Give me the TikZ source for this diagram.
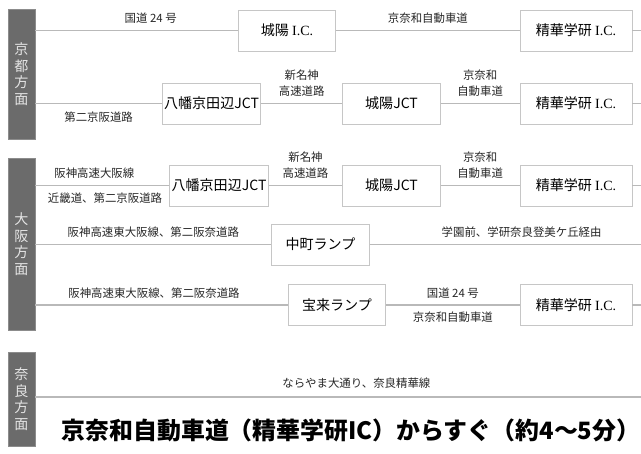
\documentclass[tikz,border=0pt]{standalone}
\usepackage{fontspec}
\setmainfont{Noto Sans CJK JP}
\newfontfamily\icfont{Liberation Serif}
\tikzset{
road/.style={draw=gray!55, line width=0.8pt}, % the roads between the places
place/.style={draw=gray!45, line width=0.5pt, fill=white, minimum height=0.82cm, inner sep=1pt, font=\fontsize{8}{9}\selectfont}, % box for a junction or ramp
jct/.style={place, minimum width=1.95cm}, % the narrower boxes
ic/.style={place, minimum width=2.24cm}, % the box of the exit
area/.style={fill=black!58, draw=black!45, minimum width=0.54cm, inner sep=0pt, align=center, text=gray!20, font=\fontsize{8}{9.4}\selectfont}, % the dark bar on the left
lab/.style={inner sep=3.5pt, align=center, text=black!85, font=\fontsize{6.5}{9}\selectfont}, % names of the roads
}
\begin{document}
\begin{tikzpicture}[x=0.02cm, y=-0.02cm]
\useasboundingbox (0,0) rectangle (641,453);

% the three areas
\node[area, minimum height=2.6cm] (kyoto) at (21.5,74) {京\\都\\方\\面};
\node[area, minimum height=3.44cm] (osaka) at (21.5,244) {大\\阪\\方\\面};
\node[area, minimum height=1.88cm] (nara) at (21.5,399) {奈\\良\\方\\面};

% from kyoto
\node[jct] (jyo_ic) at (287,30.5) {城陽 {\icfont I.C.}};
\node[ic] (seika_a) at (576,30.5) {精華学研 {\icfont I.C.}};
\coordinate (end_a) at (641,30.5);

\node[jct] (yawata_a) at (211.5,103.5) {八幡京田辺JCT};
\node[jct] (jyo_jct_a) at (391.5,103.5) {城陽JCT};
\node[ic] (seika_b) at (576,103.5) {精華学研 {\icfont I.C.}};
\coordinate (end_b) at (641,103.5);

% from osaka
\node[jct] (yawata_b) at (219,185.5) {八幡京田辺JCT};
\node[jct] (jyo_jct_b) at (391.5,185.5) {城陽JCT};
\node[ic] (seika_c) at (576,185.5) {精華学研 {\icfont I.C.}};
\coordinate (end_c) at (641,185.5);

\node[jct] (nakamachi) at (320.5,244.5) {中町ランプ};
\coordinate (end_d) at (641,244.5);

\node[jct] (horai) at (337,305) {宝来ランプ};
\node[ic] (seika_d) at (576,305) {精華学研 {\icfont I.C.}};
\coordinate (end_e) at (641,305);

% from nara
\coordinate (end_f) at (641,397);

\draw[road]
    (kyoto.east |- jyo_ic) edge node[lab, above, pos=.57]{国道 24 号} (jyo_ic)
    (jyo_ic) edge node[lab, above]{京奈和自動車道} (seika_a)
    (seika_a) edge (end_a)
    (kyoto.east |- yawata_a) edge node[lab, below, inner sep=4.5pt]{第二京阪道路} (yawata_a)
    (yawata_a) edge node[lab, above]{新名神\\高速道路} (jyo_jct_a)
    (jyo_jct_a) edge node[lab, above]{京奈和\\自動車道} (seika_b)
    (seika_b) edge (end_b)
    (osaka.east |- yawata_b) edge node[lab, above, pos=.44]{阪神高速大阪線}
        node[lab, below, pos=.52]{近畿道、第二京阪道路} (yawata_b)
    (yawata_b) edge node[lab, above]{新名神\\高速道路} (jyo_jct_b)
    (jyo_jct_b) edge node[lab, above]{京奈和\\自動車道} (seika_c)
    (seika_c) edge (end_c)
    (osaka.east |- nakamachi) edge node[lab, above]{阪神高速東大阪線、第二阪奈道路} (nakamachi)
    (nakamachi) edge node[lab, above, pos=.56]{学園前、学研奈良登美ケ丘経由} (end_d)
    (osaka.east |- horai) edge node[lab, above, pos=.47]{阪神高速東大阪線、第二阪奈道路} (horai)
    (horai) edge node[lab, above]{国道 24 号} node[lab, below]{京奈和自動車道} (seika_d)
    (seika_d) edge (end_e)
    (nara.east |- end_f) edge node[lab, above, inner sep=4.5pt, pos=.53]{ならやま大通り、奈良精華線} (end_f);

\node[font=\bfseries\fontsize{13.6}{15}\selectfont] (access) at (351,430)
    {京奈和自動車道（精華学研IC）からすぐ（約4～5分）};
\end{tikzpicture}
\end{document}
